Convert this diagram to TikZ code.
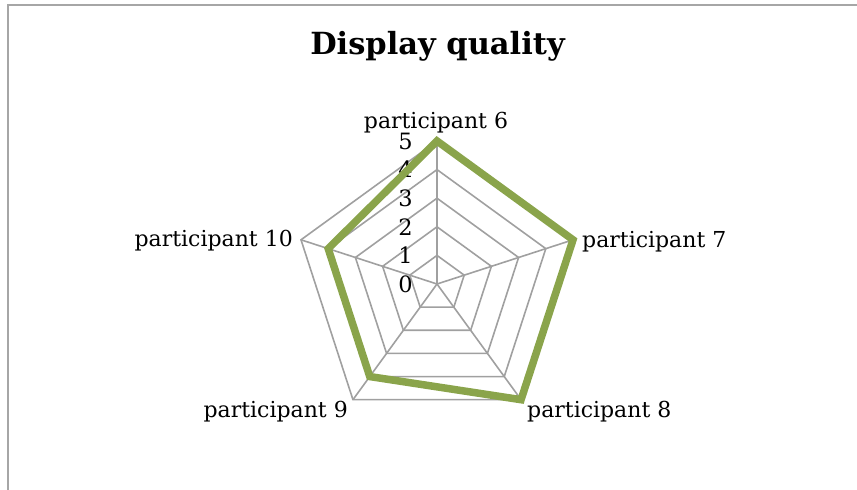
\documentclass[tikz,border=0pt]{standalone}
\usepackage{fontspec}
\setmainfont{DejaVu Serif}
\definecolor{seriesgreen}{HTML}{8AA44B}
\definecolor{framegray}{HTML}{A6A6A6}
\definecolor{gridgray}{HTML}{A0A0A0}
\begin{document}
\begin{tikzpicture}[x=1pt,y=-1pt,
  grid/.style={draw=gridgray, line width=1.6pt, line join=miter},
  series/.style={draw=seriesgreen, line width=7.5pt, line join=miter},
  axislbl/.style={font=\fontsize{22}{24}\selectfont, inner sep=0pt, text=black},
  ticklbl/.style={font=\fontsize{22.5}{24}\selectfont, inner sep=0pt, anchor=east, text=black}]
\useasboundingbox (0,0) rectangle (857,490);
% chart frame (only top and left edges fall inside the page)
\draw[framegray, line width=2pt] (7.5,495) -- (7.5,4.5) -- (862,4.5);
% title
\node[font=\bfseries\fontsize{30.5}{34}\selectfont, inner sep=0pt] (title) at (437.5,46) {Display quality};
% radar centre and spoke directions (one spoke per participant)
\def\cx{437}\def\cy{284}\def\unit{28.6}
\coordinate (c) at (\cx,\cy);
\foreach \i/\a in {1/90,2/18,3/-54,4/-126,5/162}{
  \foreach \k in {1,...,5}{
    \coordinate (r\k-\i) at ({\cx+\k*\unit*cos(\a)},{\cy-\k*\unit*sin(\a)});
  }
}
% concentric pentagon rings
\foreach \k in {1,...,5}{
  \draw[grid] (r\k-1) -- (r\k-2) -- (r\k-3) -- (r\k-4) -- (r\k-5) -- cycle;
}
% spokes
\foreach \i in {1,...,5}{
  \draw[grid] (c) -- (r5-\i);
}
% scale labels
\foreach \k in {0,...,5}{
  \node[ticklbl] (t\k) at (413,{\cy-\k*\unit}) {\k};
}
% data series: 5, 5, 5, 4, 4
\draw[series] (r5-1) -- (r5-2) -- (r5-3) -- (r4-4) -- (r4-5) -- cycle;
% category labels
\node[axislbl, anchor=base] (p6) at (436,128) {participant 6};
\node[axislbl, anchor=base west] (p7) at (582,247) {participant 7};
\node[axislbl, anchor=base west] (p8) at (527,417) {participant 8};
\node[axislbl, anchor=base east] (p9) at (348,417) {participant 9};
\node[axislbl, anchor=base east] (p10) at (293,246) {participant 10};
\end{tikzpicture}
\end{document}
